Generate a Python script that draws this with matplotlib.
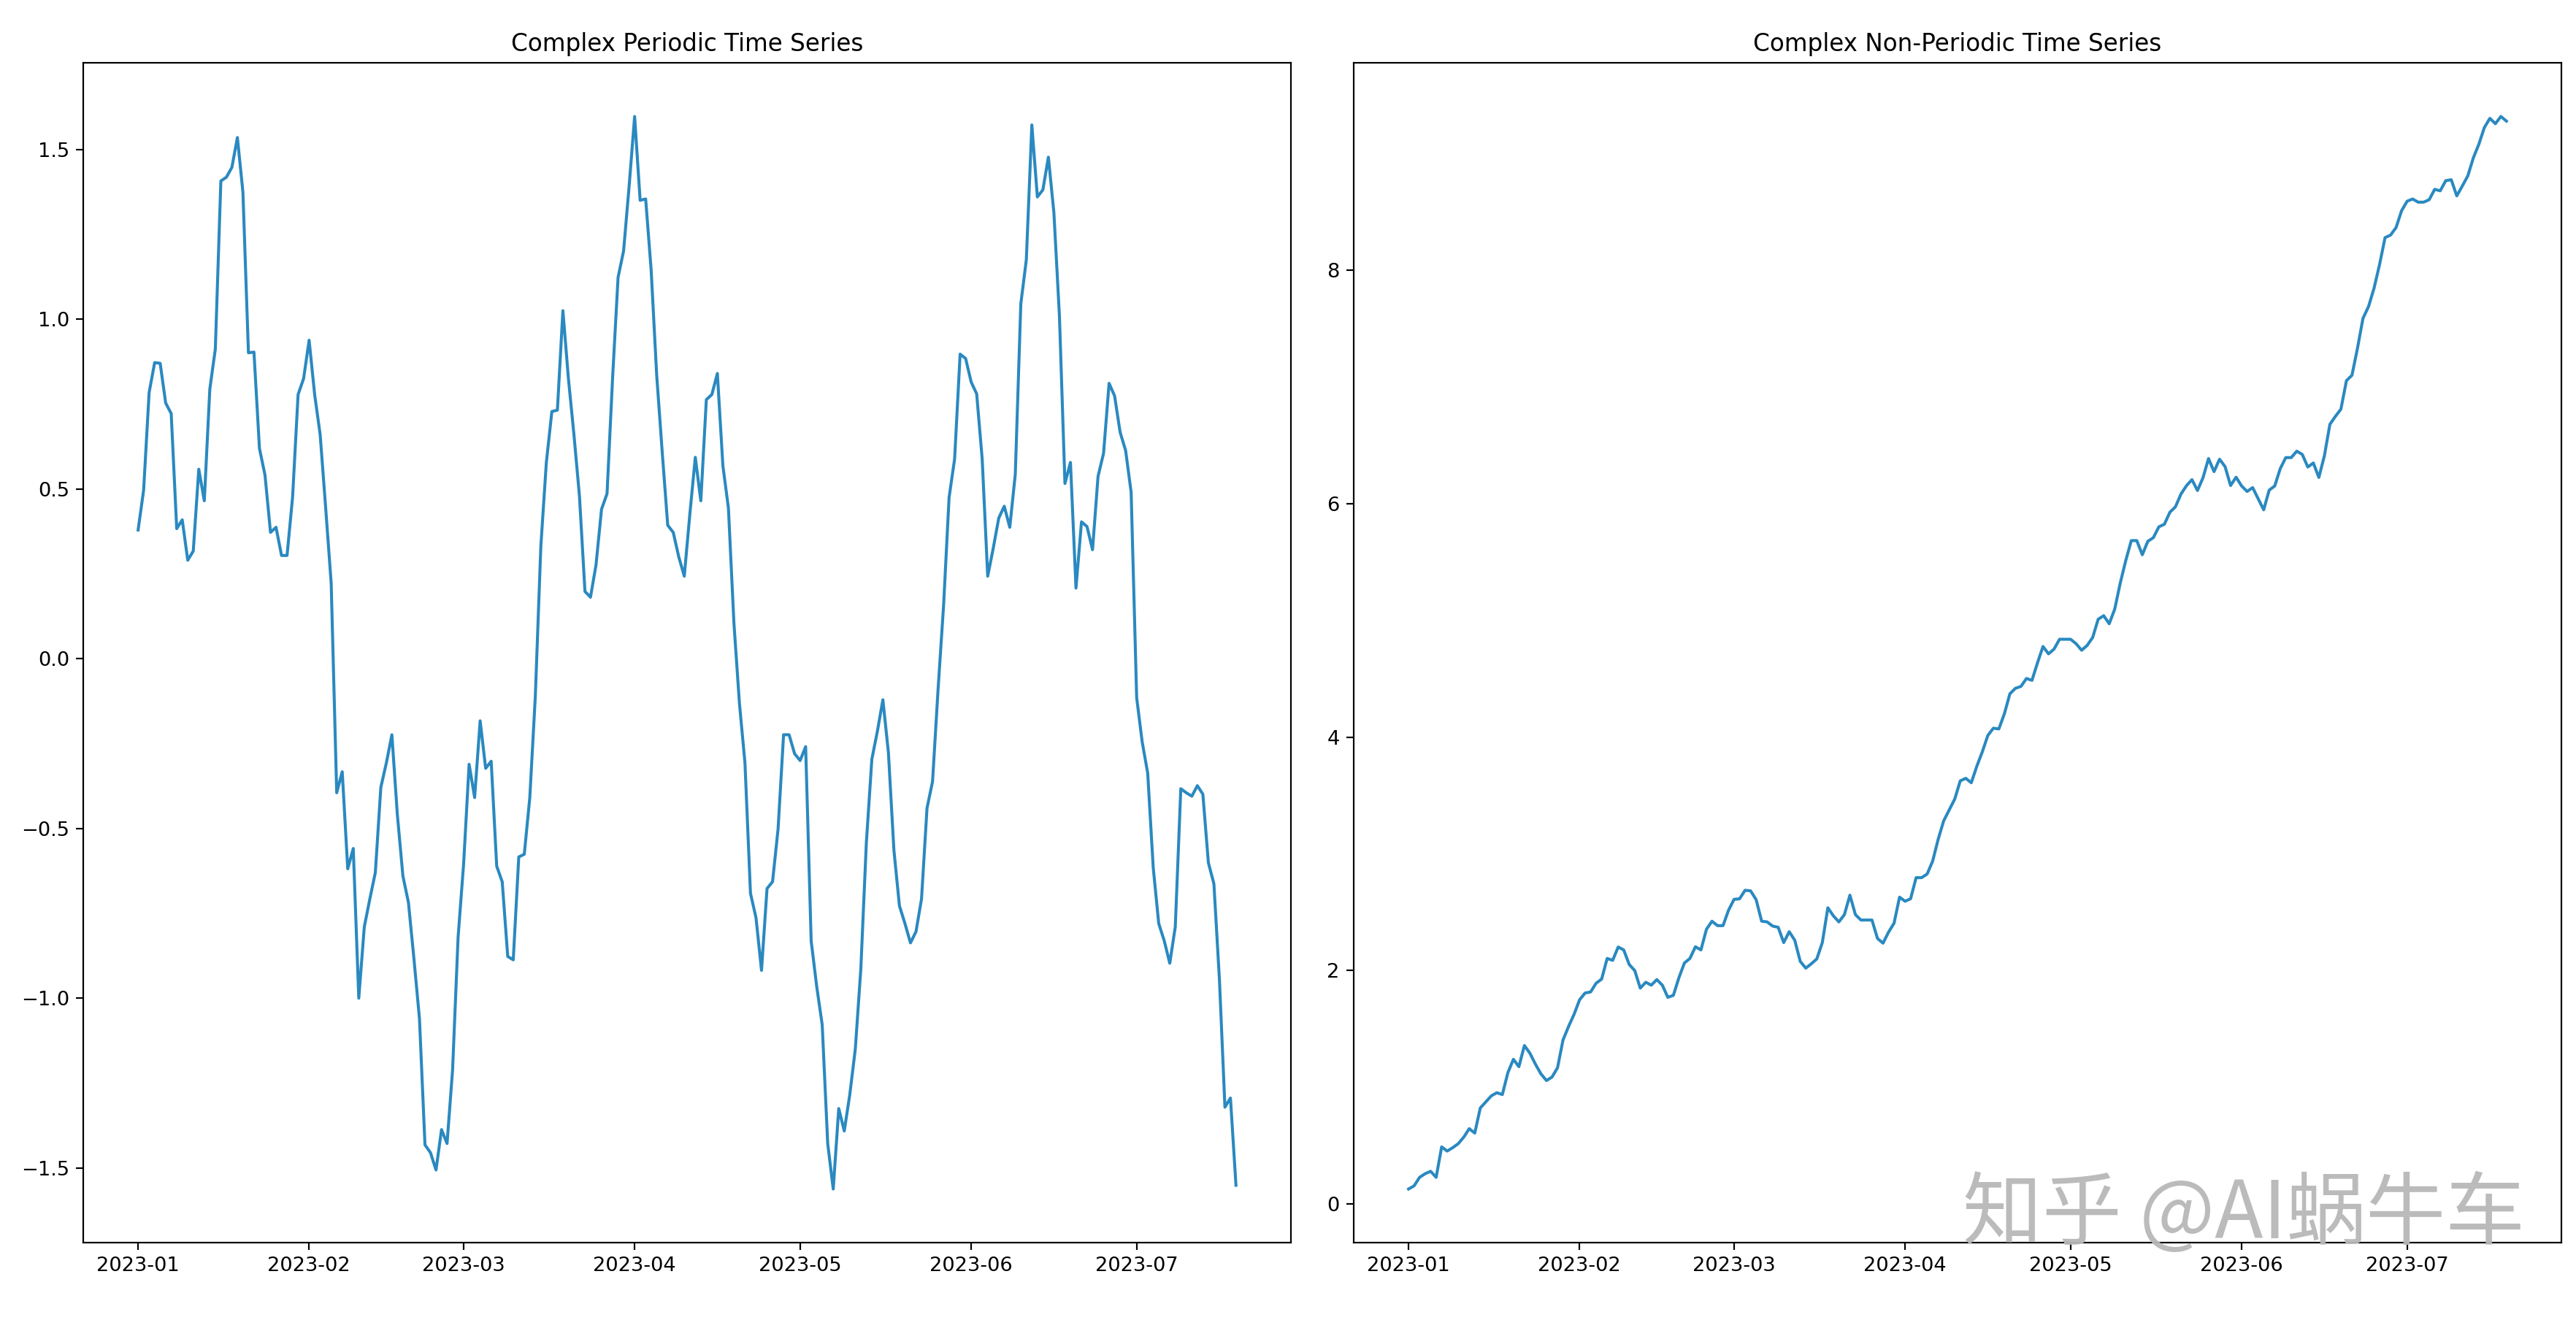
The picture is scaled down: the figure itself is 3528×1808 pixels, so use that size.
import numpy as np
import pandas as pd
import matplotlib
matplotlib.use('Agg')
import matplotlib.pyplot as plt

# 200 daily points starting 2023-01-01
dates = pd.date_range('2023-01-01', periods=200, freq='D')

periodic = [
    0.379, 0.496, 0.784, 0.872, 0.870, 0.753, 0.722, 0.383, 0.409, 0.290,
    0.317, 0.558, 0.465, 0.794, 0.912, 1.407, 1.418, 1.447, 1.535, 1.374,
    0.901, 0.903, 0.619, 0.541, 0.372, 0.387, 0.304, 0.304, 0.475, 0.778,
    0.825, 0.938, 0.778, 0.660, 0.444, 0.222, -0.395, -0.333, -0.619, -0.559,
    -1.000, -0.790, -0.708, -0.630, -0.379, -0.307, -0.224, -0.461, -0.640, -0.718,
    -0.884, -1.060, -1.432, -1.455, -1.506, -1.387, -1.428, -1.212, -0.821, -0.605,
    -0.311, -0.409, -0.183, -0.323, -0.302, -0.611, -0.657, -0.877, -0.887, -0.584,
    -0.576, -0.409, -0.111, 0.331, 0.578, 0.728, 0.732, 1.025, 0.825, 0.660,
    0.479, 0.198, 0.181, 0.276, 0.440, 0.486, 0.825, 1.123, 1.201, 1.391,
    1.597, 1.350, 1.354, 1.144, 0.835, 0.609, 0.393, 0.372, 0.300, 0.243,
    0.424, 0.593, 0.465, 0.763, 0.778, 0.840, 0.568, 0.444, 0.105, -0.132,
    -0.307, -0.691, -0.763, -0.918, -0.677, -0.657, -0.502, -0.224, -0.224, -0.280,
    -0.300, -0.259, -0.831, -0.965, -1.078, -1.428, -1.562, -1.325, -1.391, -1.284,
    -1.150, -0.914, -0.543, -0.296, -0.214, -0.121, -0.276, -0.564, -0.728, -0.780,
    -0.837, -0.804, -0.708, -0.440, -0.362, -0.091, 0.156, 0.475, 0.588, 0.897,
    0.884, 0.815, 0.780, 0.588, 0.243, 0.325, 0.414, 0.449, 0.387, 0.543,
    1.045, 1.175, 1.572, 1.360, 1.381, 1.477, 1.313, 1.010, 0.516, 0.578,
    0.208, 0.403, 0.389, 0.321, 0.537, 0.605, 0.811, 0.774, 0.667, 0.613,
    0.490, -0.115, -0.245, -0.337, -0.615, -0.780, -0.831, -0.897, -0.790, -0.383,
    -0.395, -0.405, -0.374, -0.399, -0.601, -0.663, -0.944, -1.321, -1.294, -1.551,
]

non_periodic = [
    0.129, 0.156, 0.229, 0.260, 0.281, 0.229, 0.490, 0.454, 0.483, 0.517,
    0.573, 0.646, 0.608, 0.823, 0.875, 0.927, 0.954, 0.938, 1.125, 1.240,
    1.177, 1.358, 1.292, 1.198, 1.115, 1.058, 1.088, 1.167, 1.406, 1.521,
    1.625, 1.750, 1.808, 1.817, 1.892, 1.927, 2.104, 2.088, 2.202, 2.177,
    2.052, 2.000, 1.850, 1.900, 1.875, 1.923, 1.875, 1.771, 1.788, 1.938,
    2.065, 2.104, 2.204, 2.177, 2.354, 2.423, 2.385, 2.385, 2.517, 2.610,
    2.615, 2.688, 2.683, 2.608, 2.423, 2.417, 2.381, 2.371, 2.240, 2.333,
    2.260, 2.079, 2.021, 2.058, 2.100, 2.240, 2.538, 2.469, 2.417, 2.479,
    2.646, 2.479, 2.433, 2.433, 2.433, 2.275, 2.235, 2.329, 2.406, 2.629,
    2.594, 2.615, 2.796, 2.796, 2.827, 2.938, 3.125, 3.283, 3.376, 3.469,
    3.625, 3.647, 3.609, 3.750, 3.874, 4.014, 4.076, 4.070, 4.200, 4.371,
    4.418, 4.434, 4.502, 4.486, 4.636, 4.776, 4.713, 4.754, 4.838, 4.838,
    4.838, 4.800, 4.744, 4.785, 4.853, 5.009, 5.040, 4.971, 5.096, 5.319,
    5.512, 5.683, 5.683, 5.562, 5.677, 5.708, 5.801, 5.823, 5.926, 5.972,
    6.081, 6.153, 6.205, 6.112, 6.221, 6.386, 6.274, 6.380, 6.317, 6.155,
    6.226, 6.151, 6.104, 6.137, 6.042, 5.947, 6.115, 6.151, 6.299, 6.394,
    6.394, 6.449, 6.421, 6.313, 6.348, 6.224, 6.408, 6.679, 6.747, 6.809,
    7.053, 7.099, 7.330, 7.587, 7.687, 7.844, 8.047, 8.278, 8.300, 8.365,
    8.509, 8.590, 8.609, 8.582, 8.582, 8.603, 8.692, 8.679, 8.766, 8.774,
    8.636, 8.720, 8.807, 8.961, 9.078, 9.221, 9.300, 9.254, 9.316, 9.276,
]

line_color = '#2a89c0'

fig, (ax1, ax2) = plt.subplots(1, 2, figsize=(18, 1808 / 196), dpi=196)
fig.subplots_adjust(left=0.0323, right=0.9943, bottom=0.0586, top=0.9524, wspace=0.052)

ax1.plot(dates, periodic, color=line_color)
ax1.set_title('Complex Periodic Time Series')

ax2.plot(dates, non_periodic, color=line_color)
ax2.set_title('Complex Non-Periodic Time Series')

# watermark
fig.text(0.762, 0.079, '知乎 @AI蜗牛车', fontsize=40, color='#b8b8b8', alpha=0.95,
         family=['Noto Sans CJK SC', 'DejaVu Sans'], va='center', ha='left')

plt.savefig('out.png', dpi=196)
